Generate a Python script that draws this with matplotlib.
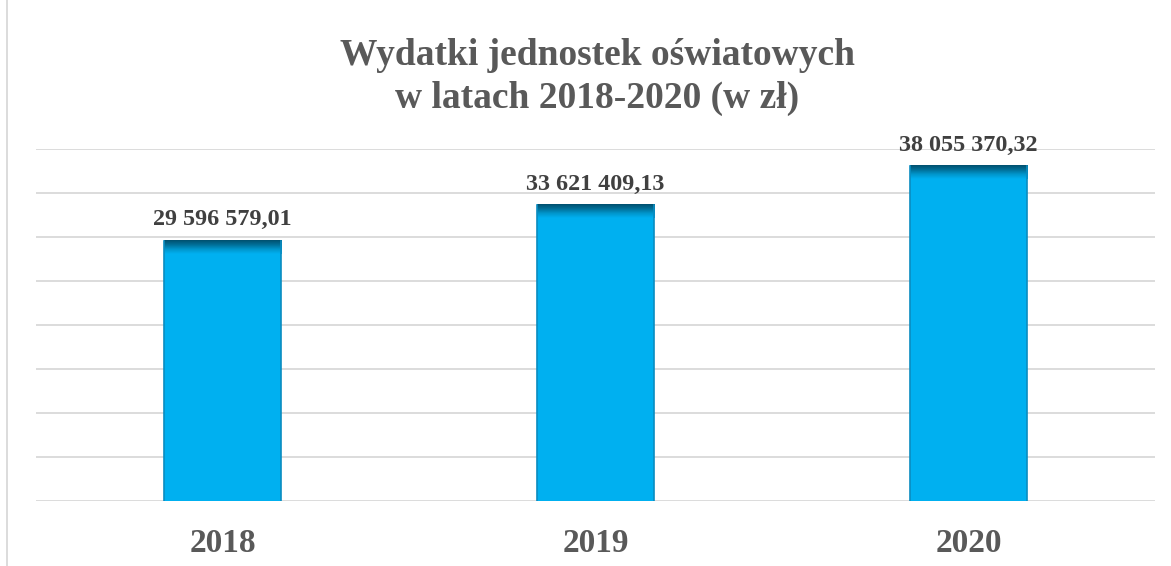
import matplotlib.pyplot as plt
import numpy as np
from matplotlib.colors import LinearSegmentedColormap
from matplotlib.lines import Line2D

years = ["2018", "2019", "2020"]
values = [29596579.01, 33621409.13, 38055370.32]
labels = ["29 596 579,01", "33 621 409,13", "38 055 370,32"]
title = "Wydatki jednostek oświatowych\nw latach 2018-2020 (w zł)"

plt.rcParams['font.family'] = ['Liberation Serif', 'DejaVu Serif']

fig = plt.figure(figsize=(11.71, 5.66), dpi=100)
ax = fig.add_axes([36/1171, 1 - 501/566, 1119/1171, 352/566])

x = np.arange(len(years))
bw = 0.316
bars = ax.bar(x, values, width=bw, color="#00B0F0", zorder=2)

# dark bevel at the top of each bar
cmap = LinearSegmentedColormap.from_list("bev", ["#00506F", "#006F98", "#0096CC", "#00B0F0"])
grad = np.linspace(0, 1, 50).reshape(-1, 1)
bev = 1.5e6
for xi, v in zip(x, values):
    ax.imshow(grad, cmap=cmap, aspect="auto", zorder=3,
              extent=(xi - bw/2, xi + bw/2, v - bev, v), origin="upper")
    ax.plot([xi - bw/2, xi - bw/2], [0, v], color="#0A8CC0", lw=1.2, zorder=4)
    ax.plot([xi + bw/2, xi + bw/2], [0, v], color="#0A8CC0", lw=1.2, zorder=4)

for xi, v, lab in zip(x, values, labels):
    ax.text(xi, v + 1.2e6, lab, ha="center", va="bottom", fontsize=17.4,
            fontweight="bold", color="#404040")

ax.set_xlim(-0.5, 2.5)
ax.set_ylim(0, 40e6)
ax.set_yticks(np.arange(0, 40e6 + 1, 5e6))
ax.yaxis.grid(True, color="#D9D9D9", lw=1.3, zorder=0)
ax.tick_params(axis="y", left=False, labelleft=False)
ax.tick_params(axis="x", bottom=False, pad=16)
ax.set_xticks(x)
ax.set_xticklabels(years, fontsize=24, fontweight="bold", color="#595959")
for s in ax.spines.values():
    s.set_visible(False)

fig.text(597/1171, 1 - 77/566, title, ha="center", va="center", fontsize=27,
         fontweight="bold", color="#595959", linespacing=1.3)

fig.add_artist(Line2D([7/1171, 7/1171], [0, 1], color="#D9D9D9", lw=1.3,
                      transform=fig.transFigure))

fig.savefig("out.png", dpi=100, facecolor="white")
